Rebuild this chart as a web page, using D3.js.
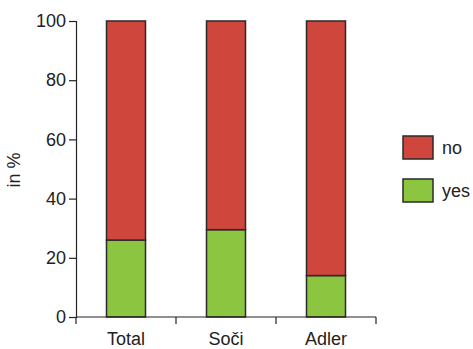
<!DOCTYPE html>
<html>
<head>
<meta charset="utf-8">
<script src="https://cdn.jsdelivr.net/npm/d3@7"></script>
<style>
  body { margin: 0; background: #fff; }
  text { font-family: "Liberation Sans", Arial, sans-serif; fill: #222; }
</style>
</head>
<body>
<svg id="chart" width="473" height="349"></svg>
<script>
const categories = ['Total', 'Soči', 'Adler'];
const yesValues = [26, 29.5, 14];
const noValues = [74, 70.5, 86];
const seriesNames = ['no', 'yes'];
const yTicks = [0, 20, 40, 60, 80, 100];

const colors = { no: '#cf463d', yes: '#8cc540' };

const svg = d3.select('#chart');
const margin = { left: 76, right: 97, top: 21, bottom: 32 };
const width = 473 - margin.left - margin.right,
    height = 349 - margin.top - margin.bottom;

const x = d3.scaleBand()
    .domain(categories)
    .range([0, width])
    .paddingInner(0.61)
    .paddingOuter(0.305);

const y = d3.scaleLinear()
    .domain([0, 100])
    .range([height, 0]);

const g = svg.append('g')
    .attr('transform', `translate(${margin.left},${margin.top})`);

// stacked data: yes at bottom, no on top
const rows = categories.map((c, i) => ({ cat: c, yes: yesValues[i], no: noValues[i] }));
const stack = d3.stack().keys(['yes', 'no'])(rows);

g.selectAll('g.layer')
    .data(stack)
    .enter().append('g')
    .attr('class', 'layer')
    .attr('fill', d => colors[d.key])
    .selectAll('rect')
    .data(d => d)
    .enter().append('rect')
    .attr('x', d => x(d.data.cat))
    .attr('width', x.bandwidth())
    .attr('y', d => y(d[1]))
    .attr('height', d => y(d[0]) - y(d[1]))
    .attr('stroke', '#2a2a2a')
    .attr('stroke-width', 1.5);

// y axis
const yAxis = g.append('g')
    .call(d3.axisLeft(y).tickValues(yTicks).tickSize(7).tickPadding(3));
yAxis.selectAll('text').style('font-size', '18px');

// x axis: ticks at band boundaries
const bounds = d3.range(categories.length + 1).map(i => i * width / categories.length);
const xAxis = g.append('g').attr('transform', `translate(0,${height})`);
xAxis.append('line')
    .attr('x1', 0).attr('x2', width)
    .attr('stroke', '#222').attr('stroke-width', 1.2);
xAxis.selectAll('line.tick')
    .data(bounds)
    .enter().append('line')
    .attr('class', 'tick')
    .attr('x1', d => d).attr('x2', d => d)
    .attr('y1', 0).attr('y2', 7)
    .attr('stroke', '#222').attr('stroke-width', 1.2);
xAxis.selectAll('text')
    .data(categories)
    .enter().append('text')
    .attr('x', d => x(d) + x.bandwidth() / 2)
    .attr('y', 28)
    .attr('text-anchor', 'middle')
    .style('font-size', '18px')
    .text(d => d);

g.selectAll('.domain').attr('stroke', '#222').attr('stroke-width', 1.2);
g.selectAll('.tick line').attr('stroke', '#222').attr('stroke-width', 1.2);

// y axis label
svg.append('text')
    .attr('transform', 'translate(20,170) rotate(-90)')
    .attr('text-anchor', 'middle')
    .style('font-size', '18px')
    .text('in %');

// legend
const legend = svg.append('g').attr('transform', 'translate(403,136)');
const li = legend.selectAll('g')
    .data(seriesNames)
    .enter().append('g')
    .attr('transform', (d, i) => `translate(0,${i * 43})`);
li.append('rect')
    .attr('width', 30).attr('height', 23)
    .attr('fill', d => colors[d])
    .attr('stroke', '#2a2a2a').attr('stroke-width', 1.5);
li.append('text')
    .attr('x', 39).attr('y', 18)
    .style('font-size', '18px')
    .text(d => d);
</script>
</body>
</html>
